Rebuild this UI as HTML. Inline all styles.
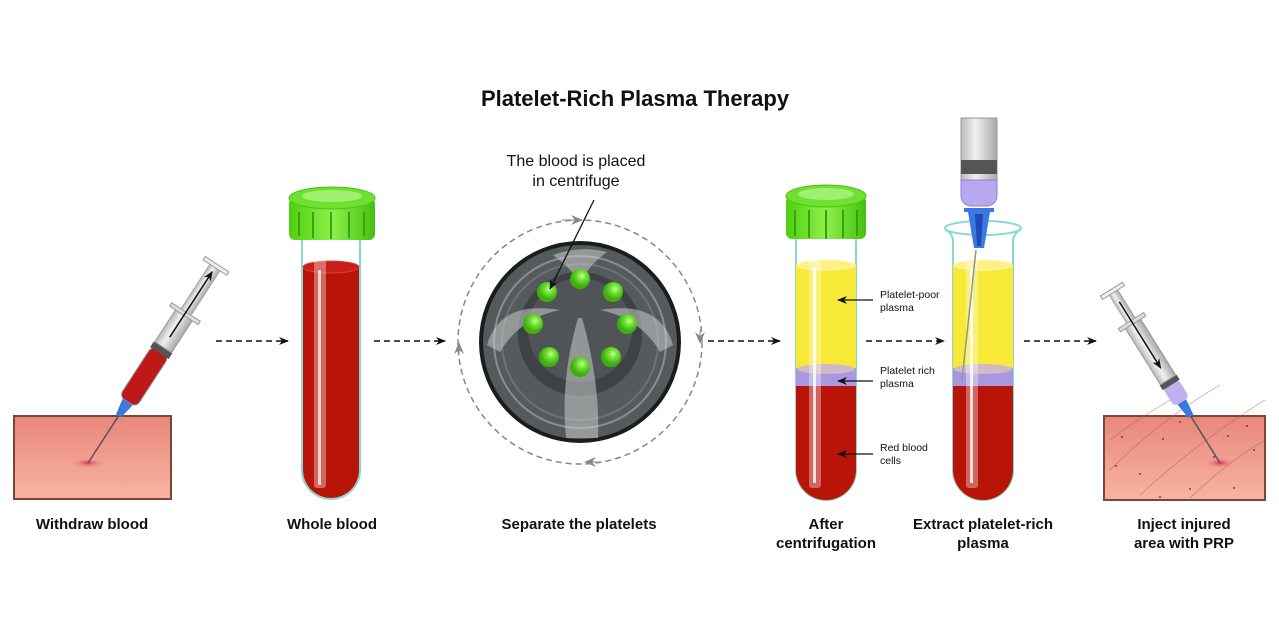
<!DOCTYPE html>
<html><head><meta charset="utf-8"><style>
html,body{margin:0;padding:0;background:#fff;}
svg{display:block;}
text{font-family:"Liberation Sans",sans-serif;}
</style></head><body>
<svg width="1279" height="636" viewBox="0 0 1279 636" xmlns="http://www.w3.org/2000/svg">
<defs>
<linearGradient id="skin" x1="0" y1="0" x2="0" y2="1"><stop offset="0" stop-color="#e8877a"/><stop offset="1" stop-color="#f8b3a3"/></linearGradient>
<radialGradient id="spot"><stop offset="0" stop-color="#e0304a"/><stop offset="1" stop-color="#f0909a" stop-opacity="0"/></radialGradient>
<linearGradient id="cap" x1="0" y1="0" x2="1" y2="0"><stop offset="0" stop-color="#4ccf10"/><stop offset="0.5" stop-color="#8ef04a"/><stop offset="1" stop-color="#44c010"/></linearGradient>
<linearGradient id="glass" x1="0" y1="0" x2="1" y2="0"><stop offset="0" stop-color="#b8b8b8"/><stop offset="0.4" stop-color="#f0f0f0"/><stop offset="1" stop-color="#a8a8a8"/></linearGradient>
<linearGradient id="glassv" x1="0" y1="0" x2="0" y2="1"><stop offset="0" stop-color="#b8b8b8"/><stop offset="0.4" stop-color="#f0f0f0"/><stop offset="1" stop-color="#a8a8a8"/></linearGradient>
<radialGradient id="gdot" cx="0.6" cy="0.35"><stop offset="0" stop-color="#c8ffb0"/><stop offset="0.35" stop-color="#7ee83a"/><stop offset="1" stop-color="#3db010"/></radialGradient>
<marker id="ah" markerWidth="10" markerHeight="8" refX="9" refY="4" orient="auto" markerUnits="userSpaceOnUse"><path d="M0,0 L10,4 L0,8 L3,4z" fill="#111"/></marker>
<marker id="ahg" markerWidth="12" markerHeight="10" refX="6" refY="5" orient="auto" markerUnits="userSpaceOnUse"><path d="M0,0 L12,5 L0,10 L4,5z" fill="#808890"/></marker>
<clipPath id="t3"><path d="M796,240 V470 a30,30 0 0 0 60,0 V240z"/></clipPath>
<clipPath id="t4"><path d="M953,232 V470 a30,30 0 0 0 60,0 V232z"/></clipPath>
</defs>

<text x="635" y="106" text-anchor="middle" font-size="22" font-weight="bold" fill="#111">Platelet-Rich Plasma Therapy</text>

<!-- Step 1 -->
<rect x="14" y="416" width="157" height="83" fill="url(#skin)" stroke="#7a4636" stroke-width="2"/>
<ellipse cx="88" cy="463" rx="16" ry="5" fill="url(#spot)"/>
<g transform="translate(88,463) rotate(-57)">
<line x1="0" y1="0" x2="60" y2="0" stroke="#555" stroke-width="1.5"/>
<path d="M56,-3 L73,-6 L73,6 L56,3z" fill="#3a7ae0"/>
<rect x="73" y="-10" width="60" height="20" rx="6" fill="#c01818"/>
<rect x="73" y="-10" width="60" height="20" rx="6" fill="none" stroke="#888" stroke-width="1"/>
<rect x="131" y="-11" width="7" height="22" fill="#555"/>
<rect x="138" y="-10" width="40" height="20" fill="url(#glassv)" stroke="#999"/>
<rect x="176" y="-17" width="4" height="34" fill="#ddd" stroke="#999"/>
<rect x="180" y="-6" width="54" height="12" fill="url(#glassv)" stroke="#aaa"/>
<rect x="233" y="-14" width="4" height="28" fill="#eee" stroke="#999"/>
<line x1="150" y1="0" x2="228" y2="0" stroke="#111" stroke-width="1.5" marker-end="url(#ah)"/>
</g>

<!-- arrows -->
<g stroke="#111" stroke-width="1.5" stroke-dasharray="6,4" fill="none">
<line x1="216" y1="341" x2="288" y2="341" marker-end="url(#ah)"/>
<line x1="374" y1="341" x2="445" y2="341" marker-end="url(#ah)"/>
<line x1="708" y1="341" x2="780" y2="341" marker-end="url(#ah)"/>
<line x1="866" y1="341" x2="944" y2="341" marker-end="url(#ah)"/>
<line x1="1024" y1="341" x2="1096" y2="341" marker-end="url(#ah)"/>
</g>

<!-- Tube 1 -->
<path d="M302,238 V470 a29,29 0 0 0 58,0 V238" fill="#fff" stroke="#8ad8d0" stroke-width="2"/>
<path d="M303,268 V470 a28,28 0 0 0 56,0 V268z" fill="#b81408"/>
<ellipse cx="331" cy="267" rx="28" ry="6" fill="#c82018" stroke="#e04030"/>
<rect x="314" y="245" width="12" height="243" rx="3" fill="#fff" opacity="0.35"/>
<rect x="318" y="270" width="3" height="215" fill="#fff" opacity="0.7"/>
<rect x="289" y="198" width="86" height="42" rx="6" fill="url(#cap)"/>
<ellipse cx="332" cy="198" rx="43" ry="11" fill="#6ee030" stroke="#4cc018"/>
<ellipse cx="332" cy="196" rx="30" ry="6" fill="#a0f070"/>
<g stroke="#3aa010" stroke-width="2"><line x1="299" y1="212" x2="299" y2="236"/><line x1="313" y1="212" x2="313" y2="238"/><line x1="331" y1="212" x2="331" y2="239"/><line x1="349" y1="212" x2="349" y2="238"/><line x1="364" y1="212" x2="364" y2="236"/></g>

<!-- Centrifuge -->
<circle cx="580" cy="342" r="122" fill="none" stroke="#808890" stroke-width="1.5" stroke-dasharray="6,4"/>
<path d="M562,220 L577,220" stroke="#808890" marker-end="url(#ahg)"/>
<path d="M700,330 L700,338" stroke="#808890" marker-end="url(#ahg)"/>
<path d="M600,462 L590,462" stroke="#808890" marker-end="url(#ahg)"/>
<path d="M459,355 L459,348" stroke="#808890" marker-end="url(#ahg)"/>
<circle cx="580" cy="342" r="99" fill="#555a5c" stroke="#1c1c1c" stroke-width="4"/>
<circle cx="580" cy="342" r="86" fill="none" stroke="#8a8e90" stroke-width="2"/>
<circle cx="580" cy="342" r="78" fill="none" stroke="#6e7274" stroke-width="2"/>
<circle cx="580" cy="334" r="62" fill="#3e4244"/>
<circle cx="580" cy="330" r="52" fill="#505456"/>
<path d="M553,255 Q580,275 580,290 Q582,270 607,252 Q580,245 553,255z" fill="#c8cccc" opacity="0.55"/>
<path d="M487,345 Q500,300 560,310 Q520,318 500,352z" fill="#c8cccc" opacity="0.55"/>
<path d="M673,345 Q660,300 600,310 Q640,318 660,352z" fill="#c8cccc" opacity="0.55"/>
<path d="M578,318 Q560,380 566,438 L598,438 Q600,380 582,318z" fill="#c8cccc" opacity="0.55"/>
<g>
<circle cx="547" cy="292" r="10" fill="url(#gdot)"/><circle cx="580" cy="279" r="10" fill="url(#gdot)"/><circle cx="613" cy="292" r="10" fill="url(#gdot)"/>
<circle cx="533" cy="324" r="10" fill="url(#gdot)"/><circle cx="627" cy="324" r="10" fill="url(#gdot)"/>
<circle cx="549" cy="357" r="10" fill="url(#gdot)"/><circle cx="611" cy="357" r="10" fill="url(#gdot)"/><circle cx="580" cy="367" r="10" fill="url(#gdot)"/>
</g>
<text x="576" y="166" text-anchor="middle" font-size="16" fill="#111">The blood is placed</text>
<text x="576" y="186" text-anchor="middle" font-size="16" fill="#111">in centrifuge</text>
<line x1="594" y1="200" x2="550" y2="289" stroke="#111" stroke-width="1.3" marker-end="url(#ah)"/>

<!-- Tube 3 -->
<path d="M796,238 V470 a30,30 0 0 0 60,0 V238" fill="#fff" stroke="#8ad8d0" stroke-width="2"/>
<g clip-path="url(#t3)">
<rect x="790" y="265" width="72" height="110" fill="#f8e838"/>
<rect x="790" y="368" width="72" height="18" fill="#a898e0"/>
<rect x="790" y="386" width="72" height="120" fill="#b81408"/>
</g>
<ellipse cx="826" cy="265" rx="29" ry="5" fill="#fff080" stroke="#fff8c0"/>
<ellipse cx="826" cy="369" rx="29" ry="5" fill="#d0b8c8"/>
<rect x="809" y="247" width="12" height="241" rx="3" fill="#fff" opacity="0.35"/>
<rect x="813" y="268" width="3" height="215" fill="#fff" opacity="0.8"/>
<rect x="786" y="196" width="80" height="43" rx="6" fill="url(#cap)"/>
<ellipse cx="826" cy="196" rx="40" ry="11" fill="#6ee030" stroke="#4cc018"/>
<ellipse cx="826" cy="194" rx="28" ry="6" fill="#a0f070"/>
<g stroke="#3aa010" stroke-width="2"><line x1="795" y1="210" x2="795" y2="236"/><line x1="809" y1="210" x2="809" y2="238"/><line x1="826" y1="210" x2="826" y2="239"/><line x1="843" y1="210" x2="843" y2="238"/><line x1="857" y1="210" x2="857" y2="236"/></g>
<g stroke="#111" stroke-width="1.3"><line x1="873" y1="300" x2="838" y2="300" marker-end="url(#ah)"/><line x1="873" y1="381" x2="838" y2="381" marker-end="url(#ah)"/><line x1="873" y1="454" x2="838" y2="454" marker-end="url(#ah)"/></g>
<g font-size="10.5" fill="#111">
<text x="880" y="298">Platelet-poor</text><text x="880" y="311">plasma</text>
<text x="880" y="374">Platelet rich</text><text x="880" y="387">plasma</text>
<text x="880" y="451">Red blood</text><text x="880" y="464">cells</text>
</g>

<!-- Tube 4 -->
<path d="M953,238 V470 a30,30 0 0 0 60,0 V238" fill="#fff" stroke="#8ad8d0" stroke-width="2"/>
<g clip-path="url(#t4)">
<rect x="948" y="265" width="72" height="110" fill="#f8e838"/>
<rect x="948" y="368" width="72" height="18" fill="#a898e0"/>
<rect x="948" y="386" width="72" height="120" fill="#b81408"/>
</g>
<ellipse cx="983" cy="265" rx="29" ry="5" fill="#fff080" stroke="#fff8c0"/>
<ellipse cx="983" cy="369" rx="29" ry="5" fill="#d0b8c8"/>
<rect x="966" y="247" width="12" height="241" rx="3" fill="#fff" opacity="0.35"/>
<rect x="970" y="268" width="3" height="215" fill="#fff" opacity="0.8"/>
<ellipse cx="983" cy="228" rx="38" ry="7" fill="none" stroke="#8ad8d0" stroke-width="2"/>
<path d="M946,230 Q953,234 953,242 M1020,230 Q1013,234 1013,242" fill="none" stroke="#8ad8d0" stroke-width="2"/>
<line x1="976" y1="250" x2="962" y2="380" stroke="#8a9a90" stroke-width="1.5"/>
<rect x="961" y="118" width="36" height="62" fill="url(#glass)" stroke="#999"/>
<rect x="961" y="160" width="36" height="14" fill="#555"/>
<path d="M961,180 H997 V195 Q997,204 988,206 H970 Q961,204 961,195z" fill="#b8a8f0" stroke="#9080d0"/>
<rect x="964" y="208" width="30" height="4" fill="#3a7ae0"/>
<path d="M968,212 L990,212 L984,248 L974,248z" fill="#3a7ae0"/>
<path d="M975,214 L983,214 L981,246 L977,246z" fill="#1e4ab8"/>

<!-- Step 6 -->
<rect x="1104" y="416" width="161" height="84" fill="url(#skin)" stroke="#7a4636" stroke-width="2"/>
<g stroke="#9a6050" stroke-width="0.6" fill="none" opacity="0.7">
<path d="M1110,470 Q1160,420 1220,385"/><path d="M1140,495 Q1200,440 1265,400"/><path d="M1190,498 Q1230,460 1265,440"/><path d="M1110,440 Q1150,410 1180,395"/>
</g>
<g fill="#7a4030"><circle cx="1116" cy="466" r="1"/><circle cx="1140" cy="474" r="1"/><circle cx="1190" cy="489" r="1"/><circle cx="1234" cy="488" r="1"/><circle cx="1254" cy="450" r="1"/><circle cx="1228" cy="436" r="1"/><circle cx="1163" cy="439" r="1"/><circle cx="1180" cy="422" r="1"/><circle cx="1247" cy="426" r="1"/><circle cx="1122" cy="437" r="1"/><circle cx="1214" cy="457" r="1"/><circle cx="1160" cy="497" r="1"/></g>
<ellipse cx="1220" cy="463" rx="15" ry="5" fill="url(#spot)"/>
<g transform="translate(1220,463) rotate(-122)">
<line x1="0" y1="0" x2="58" y2="0" stroke="#555" stroke-width="1.5"/>
<path d="M55,-3 L72,-5 L72,5 L55,3z" fill="#3a7ae0"/>
<rect x="72" y="-9" width="22" height="18" rx="5" fill="#c0b0f0"/>
<rect x="92" y="-10" width="6" height="20" fill="#555"/>
<rect x="98" y="-9" width="68" height="18" fill="url(#glassv)" stroke="#999"/>
<rect x="164" y="-15" width="4" height="30" fill="#ddd" stroke="#999"/>
<rect x="168" y="-5" width="34" height="10" fill="url(#glassv)" stroke="#aaa"/>
<rect x="201" y="-13" width="4" height="26" fill="#eee" stroke="#999"/>
<line x1="190" y1="0" x2="112" y2="0" stroke="#111" stroke-width="1.5" marker-end="url(#ah)"/>
</g>

<!-- labels -->
<g font-size="15" font-weight="bold" fill="#111" text-anchor="middle">
<text x="92" y="529">Withdraw blood</text>
<text x="332" y="529">Whole blood</text>
<text x="579" y="529">Separate the platelets</text>
<text x="826" y="529">After</text><text x="826" y="548">centrifugation</text>
<text x="983" y="529">Extract platelet-rich</text><text x="983" y="548">plasma</text>
<text x="1184" y="529">Inject injured</text><text x="1184" y="548">area with PRP</text>
</g>
</svg>
</body></html>
